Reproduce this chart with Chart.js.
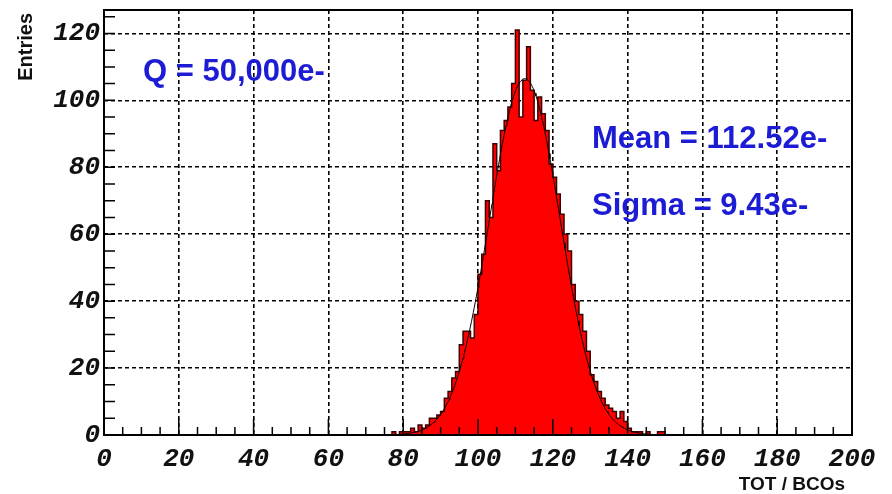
<!DOCTYPE html>
<html>
<head>
<meta charset="utf-8">
<script src="https://cdn.jsdelivr.net/npm/chart.js@4.4.0/dist/chart.umd.min.js"></script>
<style>
  html, body { margin: 0; padding: 0; background: #fff; }
  canvas { display: block; }
</style>
</head>
<body>
<canvas id="tot-chart" width="892" height="494"></canvas>
<script>
// TOT spectrum, one bin per BCO; binStart holds the low edge of every bin
const binStart = [
  76, 77, 78, 79, 80, 81, 82, 83, 84, 85, 86, 87, 88, 89, 90, 91, 92, 93, 94, 95,
  96, 97, 98, 99, 100, 101, 102, 103, 104, 105, 106, 107, 108, 109, 110, 111, 112, 113, 114, 115,
  116, 117, 118, 119, 120, 121, 122, 123, 124, 125, 126, 127, 128, 129, 130, 131, 132, 133, 134, 135,
  136, 137, 138, 139, 140, 141, 142, 143, 144, 145, 146, 147, 148, 149, 150
];
const binEntries = [
  0, 1, 0, 1, 1, 1, 2, 1, 3, 2, 3, 5, 5, 6, 7, 11, 13, 17, 19, 27,
  31, 31, 29, 36, 48, 54, 70, 65, 87, 79, 91, 94, 98, 105, 121, 95, 106, 116, 103, 94,
  101, 96, 91, 81, 77, 72, 66, 60, 55, 45, 40, 36, 31, 25, 18, 16, 13, 11, 9, 8,
  7, 5, 7, 4, 2, 1, 1, 1, 0, 1, 0, 0, 1, 1, 0
];
const binWidth = 1;

// gaussian fit parameters
const fitMean = 112.52;
const fitSigma = 9.43;
const fitConstant = 106.5;
const fitRange = [74, 152];

const chargeLabel = 'Q = 50,000e-';
const xTitle = 'TOT / BCOs';
const yTitle = 'Entries';
const xRange = [0, 200];
const yRange = [0, 127];
const majorStep = 20;
const minorStep = 5;

const histPoints = binStart.map((x, i) => ({ x: x, y: binEntries[i] }));
histPoints.push({ x: binStart[binStart.length - 1] + binWidth, y: 0 });

const fitPoints = [];
for (let x = fitRange[0]; x <= fitRange[1]; x += 0.25) {
  const u = (x - fitMean) / fitSigma;
  fitPoints.push({ x: x, y: fitConstant * Math.exp(-0.5 * u * u) });
}

const tickFont = { family: 'Liberation Mono', style: 'italic', weight: 'bold', size: 26 };

// ROOT style frame: inside ticks, box, titles and stat text on top
const rootFrame = {
  id: 'rootFrame',
  afterDraw(chart) {
    const { ctx, chartArea: a, scales: { x, y } } = chart;
    ctx.save();
    ctx.strokeStyle = '#000';
    ctx.lineWidth = 1.5;
    ctx.beginPath();
    for (let v = xRange[0]; v <= xRange[1]; v += minorStep) {
      const px = x.getPixelForValue(v);
      const len = v % majorStep === 0 ? 16 : 8;
      ctx.moveTo(px, a.bottom);
      ctx.lineTo(px, a.bottom - len);
    }
    for (let v = yRange[0]; v <= yRange[1]; v += minorStep) {
      const py = y.getPixelForValue(v);
      ctx.moveTo(a.left, py);
      ctx.lineTo(a.left + 11, py);
    }
    ctx.stroke();
    ctx.lineWidth = 2;
    ctx.strokeRect(a.left, a.top, a.right - a.left, a.bottom - a.top);

    ctx.fillStyle = '#111';
    ctx.font = 'bold 19px "Liberation Sans", Arial, sans-serif';
    ctx.textAlign = 'right';
    ctx.textBaseline = 'middle';
    ctx.fillText(xTitle, 845, 485);
    ctx.save();
    ctx.translate(26, 13);
    ctx.rotate(-Math.PI / 2);
    ctx.font = 'bold 20px "Liberation Sans", Arial, sans-serif';
    ctx.fillText(yTitle, 0, 0);
    ctx.restore();

    ctx.fillStyle = '#1c1cd4';
    ctx.font = 'bold 31px "Liberation Sans", Arial, sans-serif';
    ctx.textAlign = 'left';
    ctx.textBaseline = 'alphabetic';
    ctx.fillText(chargeLabel, 143, 81);
    ctx.fillText('Mean = ' + fitMean.toFixed(2) + 'e-', 592, 148);
    ctx.fillText('Sigma = ' + fitSigma.toFixed(2) + 'e-', 592, 215);
    ctx.restore();
  }
};

const gridOpts = { color: '#000', lineWidth: 1.6, drawTicks: false, tickLength: 0 };
const borderOpts = { display: false, dash: [4, 3] };

new Chart(document.getElementById('tot-chart'), {
  type: 'line',
  data: {
    datasets: [
      {
        label: 'TOT',
        data: histPoints,
        stepped: 'before',
        fill: 'origin',
        backgroundColor: '#ff0000',
        borderColor: '#3c0000',
        borderWidth: 1.5,
        pointRadius: 0,
        order: 1
      },
      {
        label: 'gaus fit',
        data: fitPoints,
        fill: false,
        borderColor: '#000',
        borderWidth: 1,
        pointRadius: 0,
        tension: 0,
        order: 0
      }
    ]
  },
  options: {
    responsive: false,
    animation: false,
    events: [],
    layout: { padding: { left: 0, right: 40, top: 10, bottom: 0 } },
    plugins: { legend: { display: false }, tooltip: { enabled: false } },
    scales: {
      x: {
        type: 'linear',
        min: xRange[0],
        max: xRange[1],
        z: 1,
        afterFit: s => { s.height = 59; s.paddingLeft = 0; s.paddingRight = 0; },
        ticks: { stepSize: majorStep, includeBounds: false, padding: 9, color: '#111', font: tickFont, maxRotation: 0, autoSkip: false },
        grid: gridOpts,
        border: borderOpts
      },
      y: {
        type: 'linear',
        min: yRange[0],
        max: yRange[1],
        z: 1,
        afterFit: s => { s.width = 104; s.paddingTop = 0; s.paddingBottom = 0; },
        ticks: { stepSize: majorStep, includeBounds: false, padding: 4, color: '#111', font: tickFont },
        grid: gridOpts,
        border: borderOpts
      }
    }
  },
  plugins: [rootFrame]
});
</script>
</body>
</html>
